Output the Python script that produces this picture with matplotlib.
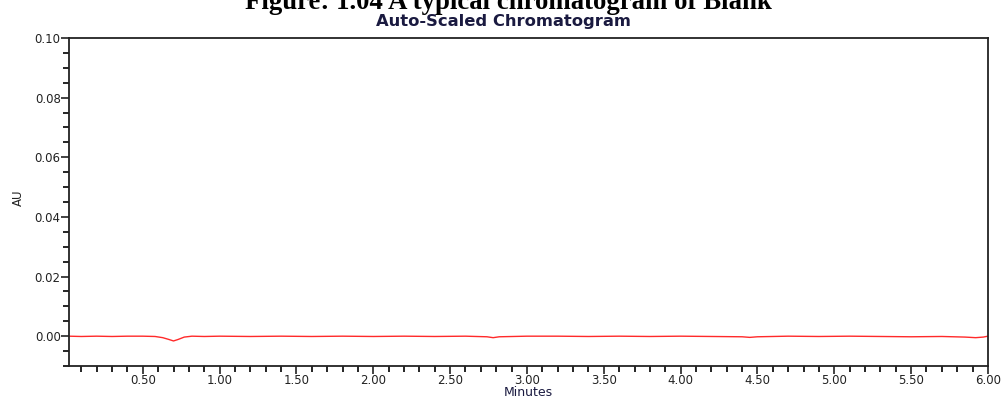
import numpy as np
import matplotlib
matplotlib.use('Agg')
import matplotlib.pyplot as plt
from matplotlib.ticker import MultipleLocator, FormatStrFormatter

# Baseline trace of the blank injection (minutes, AU)
minutes = [0.02, 0.10, 0.20, 0.30, 0.40, 0.50, 0.58, 0.63, 0.67, 0.70, 0.73,
           0.77, 0.82, 0.90, 1.00, 1.20, 1.40, 1.60, 1.80, 2.00, 2.20, 2.40,
           2.60, 2.74, 2.78, 2.82, 3.00, 3.20, 3.40, 3.60, 3.80, 4.00, 4.20,
           4.40, 4.45, 4.50, 4.70, 4.90, 5.10, 5.30, 5.50, 5.70, 5.85, 5.92,
           5.97, 6.00]
au = [0.0000, -0.0001, 0.0000, -0.0001, 0.0000, 0.0000, -0.0001, -0.0005,
      -0.0011, -0.0016, -0.0011, -0.0003, 0.0000, -0.0001, 0.0000, -0.0001,
      0.0000, -0.0001, 0.0000, -0.0001, 0.0000, -0.0001, 0.0000, -0.0002,
      -0.0005, -0.0002, 0.0000, 0.0000, -0.0001, 0.0000, -0.0001, 0.0000,
      -0.0001, -0.0002, -0.0004, -0.0002, 0.0000, -0.0001, 0.0000, -0.0001,
      -0.0002, -0.0001, -0.0003, -0.0005, -0.0003, 0.0000]

plt.rcParams['font.family'] = ['DejaVu Sans']

fig = plt.figure(figsize=(10.03, 3.99), dpi=100)
ax = fig.add_axes([0.0688, 0.0827, 0.9162, 0.8221])

ax.plot(minutes, au, color='#ff2a2a', linewidth=1.0)

ax.set_xlim(0.02, 6.0)
ax.set_ylim(-0.01, 0.10)
ax.xaxis.set_major_locator(MultipleLocator(0.5))
ax.xaxis.set_minor_locator(MultipleLocator(0.1))
ax.yaxis.set_major_locator(MultipleLocator(0.02))
ax.yaxis.set_minor_locator(MultipleLocator(0.005))
ax.xaxis.set_major_formatter(FormatStrFormatter('%.2f'))
ax.yaxis.set_major_formatter(FormatStrFormatter('%.2f'))
ax.tick_params(which='major', direction='out', length=6, width=1.2,
               labelsize=8.5, colors='#222', pad=0)
ax.tick_params(which='minor', direction='out', length=4, width=1.2)
for s in ax.spines.values():
    s.set_linewidth(1.3)
    s.set_color('#222')

# axis titles placed like the instrument printout
fig.text(528 / 1003, 1 - 386 / 399, 'Minutes', fontsize=9,
         color='#1a1a40', ha='center', va='top')
fig.text(18 / 1003, 1 - 198 / 399, 'AU', fontsize=8.5, rotation=90,
         color='#222', ha='center', va='center')

fig.text(0.507, 0.978, 'Figure: 1.04 A typical chromatogram of Blank',
         family=['Liberation Serif'], fontsize=19.3, fontweight='bold',
         ha='center', va='baseline')
fig.text(0.502, 0.935, 'Auto-Scaled Chromatogram', fontsize=11.8,
         fontweight='bold', color='#1a1a40', ha='center', va='baseline')

fig.savefig('out.png', dpi=100)
